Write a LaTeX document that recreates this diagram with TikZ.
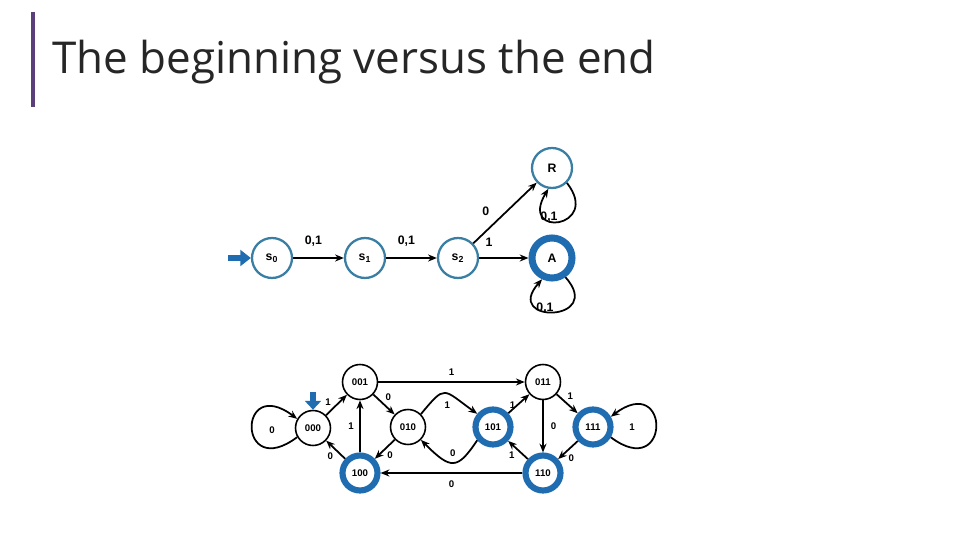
\documentclass[tikz,border=0pt]{standalone}
\usepackage{fontspec}
\setmainfont{Open Sans}
\newfontfamily\lab{Liberation Sans}
\usetikzlibrary{arrows.meta}
\definecolor{ring}{HTML}{3A7FA3}
\definecolor{acc}{HTML}{1F6CB0}
\definecolor{bar}{HTML}{5B3F7A}
\begin{document}
\begin{tikzpicture}[x=0.02cm,y=-0.02cm,
 st/.style={circle,draw=ring,line width=1.3pt,minimum size=0.8cm,inner sep=0pt,font=\lab\bfseries\fontsize{7}{8}\selectfont},
 sacc/.style={st,draw=acc,line width=4pt},
 bt/.style={circle,draw=black,line width=0.9pt,minimum size=0.7cm,inner sep=0pt,font=\lab\bfseries\fontsize{5.5}{6}\selectfont},
 bacc/.style={bt,draw=acc,line width=3.5pt},
 ed/.style={-{Stealth[length=5pt,width=4pt]},line width=1pt},
 lb/.style={font=\lab\bfseries\fontsize{7}{8}\selectfont,inner sep=0pt},
 sl/.style={font=\lab\bfseries\fontsize{5.5}{6}\selectfont,inner sep=0pt},
 ini/.style={-{Triangle[length=6pt,width=9pt]},line width=3pt,draw=acc}]
\useasboundingbox (0,0) rectangle (960,540);
\draw[bar,line width=2pt] (33,12) -- (33,107);
\node[anchor=base west,inner sep=0pt,font=\fontsize{25}{30}\selectfont,text=black!85] (title) at (52,74) {The beginning versus the end};
% top
\node[st] (s0) at (272,258) {s\textsubscript{0}};
\node[st] (s1) at (365,258) {s\textsubscript{1}};
\node[st] (s2) at (458,258) {s\textsubscript{2}};
\node[sacc] (A) at (552,258) {A};
\node[st] (R) at (552,168) {R};
\coordinate (i0) at (228,258);
\draw[ini] (i0) -- (s0);
\draw[ed,line width=1.6pt] (s0) -- node[lb,pos=0.4,above=6pt]{0,1} (s1);
\draw[ed] (s1) -- node[lb,pos=0.4,above=6pt]{0,1} (s2);
\draw[ed] (s2) -- node[lb,pos=0.2,above=6pt]{1} (A);
\draw[ed] (s2) -- node[lb,pos=0.35,above left=3pt]{0} (R);
\draw[ed] (R.-45) .. controls +(35,45) and +(-30,50) .. (R.-100);
\node[lb] (lR) at (549,217) {0,1};
\draw[ed] (A.-55) .. controls +(40,45) and +(-40,45) .. (A.-115);
\node[lb] (lA) at (545,308) {0,1};
% bottom
\node[bt] (n000) at (313,428) {000};
\node[bt] (n001) at (360,382) {001};
\node[bt] (n010) at (408,427) {010};
\node[bacc] (n101) at (493,427) {101};
\node[bt] (n011) at (543,382) {011};
\node[bacc] (n111) at (593,427) {111};
\node[bacc] (n100) at (360,473) {100};
\node[bacc] (n110) at (543,473) {110};
\coordinate (i1) at (313,392);
\draw[-{Triangle[length=5pt,width=9pt]},line width=3pt,draw=acc] (i1) -- (n000.north);
\draw[ed] (n000.-150) .. controls +(-60,45) and +(-60,-45) .. (n000.150);
\node[sl] (l1) at (272,430) {0};
\draw[ed] (n000) -- node[sl,pos=0.35,above left=1pt]{1} (n001);
\draw[ed] (n001) -- node[sl,pos=0.5,above=3pt]{1} (n011);
\draw[ed] (n001) -- node[sl,pos=0.45,above right=1pt]{0} (n010);
\draw[ed] (n010.45) .. controls +(25,-30) and +(-35,-25) .. node[sl,pos=0.55,below=4pt]{1} (n101.140);
\draw[ed] (n101.-140) .. controls +(-20,30) and +(30,30) .. node[sl,pos=0.5,above=3pt]{0} (n010.-45);
\draw[ed] (n101) -- node[sl,pos=0.45,left=1pt]{1} (n011);
\draw[ed] (n011) -- node[sl,pos=0.4,above right=1pt]{1} (n111);
\draw[ed] (n011) -- node[sl,pos=0.5,right=4pt]{0} (n110);
\draw[ed] (n111.-30) .. controls +(60,45) and +(60,-45) .. (n111.30);
\node[sl] (l2) at (632,427) {1};
\draw[ed] (n111) -- node[sl,pos=0.6,below right=1pt]{0} (n110);
\draw[ed] (n110) -- node[sl,pos=0.55,below left=1pt]{1} (n101);
\draw[ed] (n110) -- node[sl,pos=0.5,below=4pt]{0} (n100);
\draw[ed] (n100) -- node[sl,pos=0.5,below left=1pt]{0} (n000);
\draw[ed] (n100) -- node[sl,pos=0.5,left=3pt]{1} (n001);
\draw[ed] (n010) -- node[sl,pos=0.5,below right=1pt]{0} (n100);
\end{tikzpicture}
\end{document}
